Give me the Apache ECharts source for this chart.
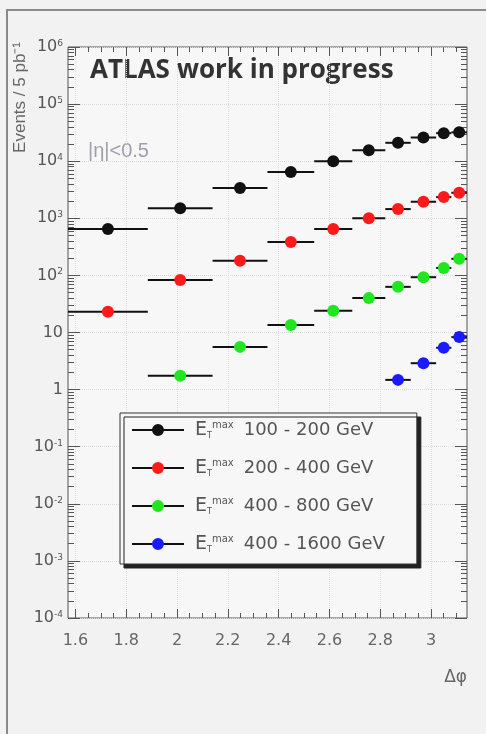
<!DOCTYPE html>
<html>
<head>
<meta charset="utf-8">
<script src="https://cdn.jsdelivr.net/npm/echarts@6/dist/echarts.min.js"></script>
<style>
html, body { margin: 0; padding: 0; background: #f2f2f2; }
#chart { width: 486px; height: 734px; }
</style>
</head>
<body>
<div id="chart"></div>
<script>
// delta phi bins (pi/2 .. pi)
var binEdges = [1.5708, 1.885, 2.14, 2.356, 2.54, 2.69, 2.82, 2.92, 3.02, 3.08, 3.1416];

// events per bin, one array per ET max range
var black = [650, 1500, 3400, 6500, 10000, 15500, 21000, 26000, 31000, 32000];
var red   = [23, 83, 180, 385, 650, 1000, 1450, 1950, 2350, 2800];
var green = [null, 1.74, 5.6, 13.5, 24, 40, 63, 93, 135, 195];
var blue  = [null, null, null, null, null, null, 1.48, 2.9, 5.4, 8.3];

var rangeNames = ['100 - 200 GeV', '200 - 400 GeV', '400 - 800 GeV', '400 - 1600 GeV'];
var colors = ['#111111', '#ff1a1a', '#1fe61f', '#1a1aff'];

var xLabels = [1.6, 1.8, 2.0, 2.2, 2.4, 2.6, 2.8, 3.0];
var xMinor = [];
for (var i = 32; i <= 62; i++) xMinor.push(i / 20);
var yMajor = [1e-4, 1e-3, 1e-2, 1e-1, 1, 10, 100, 1e3, 1e4, 1e5, 1e6];
var yMinor = [];
for (var e = -4; e < 6; e++) {
    for (var m = 2; m <= 9; m++) yMinor.push(m * Math.pow(10, e));
}

function toData(vals) {
    var out = [];
    for (var i = 0; i < vals.length; i++) {
        if (vals[i] == null) continue;
        out.push([binEdges[i], binEdges[i + 1], vals[i]]);
    }
    return out;
}

function renderPoint(params, api) {
    var lo = api.coord([api.value(0), api.value(2)]);
    var hi = api.coord([api.value(1), api.value(2)]);
    var cx = (lo[0] + hi[0]) / 2;
    var col = api.visual('color');
    return {
        type: 'group',
        children: [
            { type: 'line', shape: { x1: lo[0], y1: lo[1], x2: hi[0], y2: hi[1] },
              style: { stroke: '#111', lineWidth: 2 } },
            { type: 'circle', shape: { cx: cx, cy: lo[1], r: 6 },
              style: { fill: col } }
        ]
    };
}

function yFmt(v) {
    var p = Math.round(Math.log10(v));
    if (p === 0) return '1';
    if (p === 1) return '10';
    return '10{s|' + p + '}';
}

var allSeries = [black, red, green, blue];
var series = allSeries.map(function (vals, k) {
    return {
        name: rangeNames[k],
        type: 'custom',
        renderItem: renderPoint,
        encode: { x: [0, 1], y: 2 },
        itemStyle: { color: colors[k] },
        data: toData(vals),
        z: 5
    };
});

function iconGrad(c) {
    return {
        type: 'linear', x: 0, y: 0, x2: 1, y2: 0,
        colorStops: [
            { offset: 0, color: '#111' }, { offset: 0.385, color: '#111' },
            { offset: 0.385, color: c }, { offset: 0.615, color: c },
            { offset: 0.615, color: '#111' }, { offset: 1, color: '#111' }
        ]
    };
}

var axisGrey = '#555';
var legendIcon = 'path://M0,8 L52,8 L52,10 L0,10 Z M20,9 A6,6 0 1 1 32,9 A6,6 0 1 1 20,9 Z';

var myChart = echarts.init(document.getElementById('chart'));
var option = {
    backgroundColor: '#f2f2f2',
    animation: false,
    grid: { left: 68, right: 19, top: 47, bottom: 116, show: true,
            backgroundColor: '#f7f7f7', borderColor: axisGrey, borderWidth: 1 },
    xAxis: [
        {
            type: 'value', min: 1.5708, max: 3.1416,
            axisLine: { show: false },
            axisTick: { inside: true, length: 9, customValues: xLabels, lineStyle: { color: axisGrey } },
            axisLabel: { customValues: xLabels, color: '#666', fontSize: 16, margin: 15,
                         fontFamily: 'DejaVu Sans', formatter: function (v) { return String(+v.toFixed(1)); } },
            splitLine: { show: true, customValues: xLabels, lineStyle: { color: '#dcdcdc', type: 'dotted' } }
        },
        {
            type: 'value', min: 1.5708, max: 3.1416, position: 'bottom', offset: 0,
            axisLine: { show: false },
            axisTick: { inside: true, length: 5, customValues: xMinor, lineStyle: { color: axisGrey } },
            axisLabel: { show: false }, splitLine: { show: false }
        },
        {
            type: 'value', min: 1.5708, max: 3.1416, position: 'top', offset: 0,
            axisLine: { show: false },
            axisTick: { inside: true, length: 5, customValues: xMinor, lineStyle: { color: axisGrey } },
            axisLabel: { show: false }, splitLine: { show: false }
        },
        {
            type: 'value', min: 1.5708, max: 3.1416, position: 'top', offset: 0,
            axisLine: { show: false },
            axisTick: { inside: true, length: 9, customValues: xLabels, lineStyle: { color: axisGrey } },
            axisLabel: { show: false }, splitLine: { show: false }
        }
    ],
    yAxis: [
        {
            type: 'log', logBase: 10, min: 1e-4, max: 1e6,
            axisLine: { show: false },
            axisTick: { inside: true, length: 12, customValues: yMajor, lineStyle: { color: axisGrey } },
            axisLabel: {
                customValues: yMajor, formatter: yFmt, color: '#555', fontSize: 16, margin: 5,
                fontFamily: 'DejaVu Sans',
                rich: { s: { fontSize: 9, verticalAlign: 'top', lineHeight: 16, color: '#555', fontFamily: 'DejaVu Sans' } }
            },
            splitLine: { show: true, customValues: yMajor, lineStyle: { color: '#dcdcdc', type: 'dotted' } }
        },
        {
            type: 'log', logBase: 10, min: 1e-4, max: 1e6, position: 'left', offset: 0,
            axisLine: { show: false },
            axisTick: { inside: true, length: 6, customValues: yMinor, lineStyle: { color: axisGrey } },
            axisLabel: { show: false }, splitLine: { show: false }
        },
        {
            type: 'log', logBase: 10, min: 1e-4, max: 1e6, position: 'right', offset: 0,
            axisLine: { show: false },
            axisTick: { inside: true, length: 12, customValues: yMajor, lineStyle: { color: axisGrey } },
            axisLabel: { show: false }, splitLine: { show: false }
        },
        {
            type: 'log', logBase: 10, min: 1e-4, max: 1e6, position: 'right', offset: 0,
            axisLine: { show: false },
            axisTick: { inside: true, length: 6, customValues: yMinor, lineStyle: { color: axisGrey } },
            axisLabel: { show: false }, splitLine: { show: false }
        }
    ],
    legend: {
        orient: 'vertical', left: 120, top: 413,
        backgroundColor: '#f7f7f7', borderColor: '#333', borderWidth: 1,
        shadowColor: '#222', shadowOffsetX: 4, shadowOffsetY: 4, shadowBlur: 0,
        padding: [7, 32, 10, 12],
        itemWidth: 52, itemHeight: 12, itemGap: 18,
        data: rangeNames.map(function (n, k) {
            return { name: n, icon: legendIcon, itemStyle: { color: iconGrad(colors[k]) } };
        }),
        formatter: function (n) { return '{e|E}{t|T}{m|max}' + n; },
        textStyle: {
            color: '#555', fontSize: 18, fontFamily: 'DejaVu Sans', lineHeight: 20, padding: [0, 0, 0, 6],
            rich: {
                e: { fontSize: 19, color: '#555', lineHeight: 20, fontFamily: 'DejaVu Sans' },
                t: { fontSize: 8, color: '#555', verticalAlign: 'bottom', lineHeight: 20, fontFamily: 'DejaVu Sans' },
                m: { fontSize: 10, color: '#555', verticalAlign: 'top', lineHeight: 20, padding: [0, 10, 0, 0],
                     fontFamily: 'DejaVu Sans' }
            }
        }
    },
    graphic: [
        { type: 'rect', shape: { x: 7, y: 10, width: 500, height: 740 },
          style: { fill: 'none', stroke: '#8a8a8a', lineWidth: 2 }, z: -1 },
        { type: 'text', x: 90, y: 71,
          style: { text: 'ATLAS work in progress', font: 'bold 26px "Open Sans"', fill: '#333',
                   verticalAlign: 'middle' } },
        { type: 'text', x: 88, y: 151,
          style: { text: '|η|<0.5', font: '20px "Liberation Sans"', fill: '#a0a0ac', verticalAlign: 'middle' } },
        { type: 'text', x: 20, y: 42, rotation: Math.PI / 2,
          style: { text: 'Events / 5 pb⁻¹', font: '17px "Liberation Sans"', fill: '#666',
                   align: 'right', verticalAlign: 'middle' } },
        { type: 'text', x: 467, y: 678,
          style: { text: 'Δφ', font: '17px "DejaVu Sans"', fill: '#666', align: 'right', verticalAlign: 'middle' } }
    ],
    series: series
};
myChart.setOption(option);
</script>
</body>
</html>
